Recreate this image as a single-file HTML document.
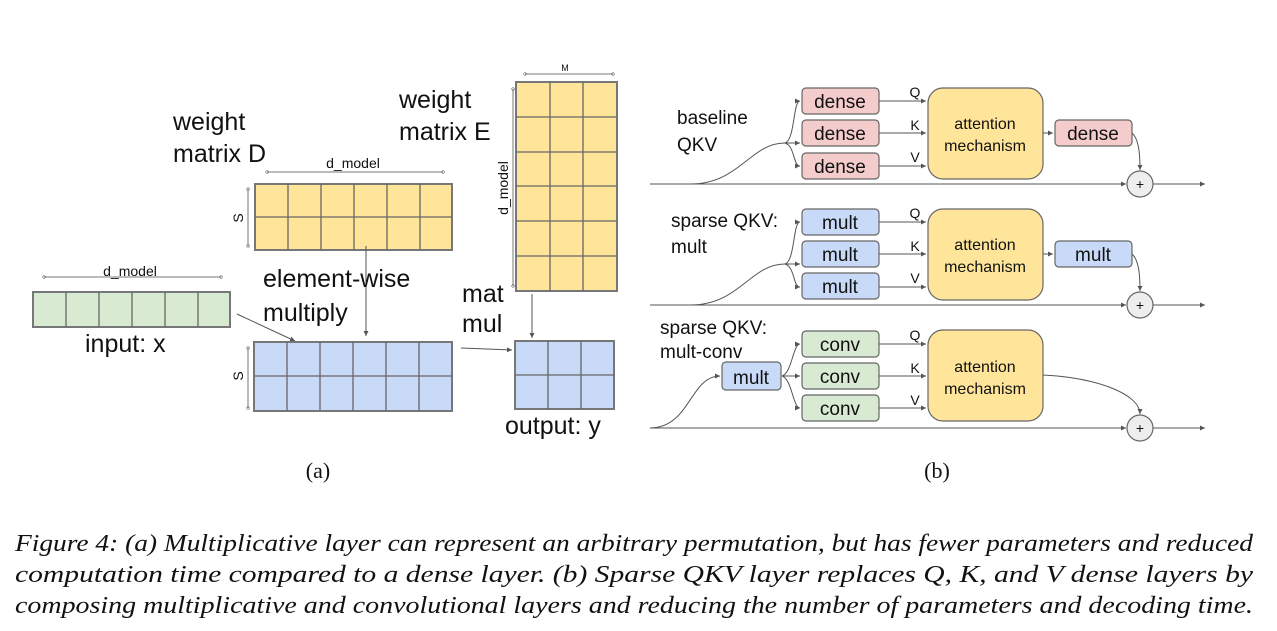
<!DOCTYPE html>
<html><head><meta charset="utf-8"><style>
html,body{margin:0;padding:0;background:#fff;}
svg{display:block;}
text{font-family:"Liberation Sans",sans-serif;fill:#111;}
.cap{font-family:"Liberation Serif",serif;font-style:italic;font-size:24px;}
</style></head><body>
<svg width="1277" height="631" viewBox="0 0 1277 631" xmlns="http://www.w3.org/2000/svg">
<defs>
<marker id="ar" markerWidth="6" markerHeight="6" refX="5" refY="3" orient="auto"><path d="M0,0.5 L5,3 L0,5.5z" fill="#555"/></marker>
<marker id="dot" markerWidth="4" markerHeight="4" refX="2" refY="2"><circle cx="2" cy="2" r="1.3" fill="none" stroke="#666" stroke-width="0.6"/></marker>
</defs>
<g stroke="#666" stroke-width="1.3">
<!-- input x -->
<rect x="33" y="292" width="197" height="35" fill="#d9ead3" stroke="#777" stroke-width="2"/>
<path d="M66,292v35M99,292v35M132,292v35M165,292v35M198,292v35" />
<!-- weight D -->
<rect x="255" y="184" width="197" height="66" fill="#ffe599" stroke="#777" stroke-width="2"/>
<path d="M288,184v66M321,184v66M354,184v66M387,184v66M420,184v66M255,217h197"/>
<!-- blue -->
<rect x="254" y="342" width="198" height="69" fill="#c9daf8" stroke="#777" stroke-width="2"/>
<path d="M287,342v69M320,342v69M353,342v69M386,342v69M419,342v69M254,376h198"/>
<!-- weight E -->
<rect x="516" y="82" width="101" height="209" fill="#ffe599" stroke="#777" stroke-width="2"/>
<path d="M550,82v209M583,82v209M516,117h101M516,152h101M516,186h101M516,221h101M516,256h101"/>
<!-- output y -->
<rect x="515" y="341" width="99" height="68" fill="#c9daf8" stroke="#777" stroke-width="2"/>
<path d="M548,341v68M581,341v68M515,375h99"/>
</g>
<g stroke="#777" stroke-width="1" fill="none" marker-start="url(#dot)" marker-end="url(#dot)">
<line x1="44" y1="277" x2="221" y2="277"/>
<line x1="267" y1="172" x2="443" y2="172"/>
<line x1="248" y1="189" x2="248" y2="246"/>
<line x1="248" y1="348" x2="248" y2="408"/>
<line x1="525" y1="74" x2="613" y2="74"/>
<line x1="513" y1="89" x2="513" y2="286"/>
</g>
<g stroke="#555" stroke-width="1" fill="none" marker-end="url(#ar)">
<line x1="366" y1="246" x2="366" y2="336"/>
<line x1="237" y1="314" x2="295" y2="341"/>
<line x1="461" y1="348" x2="512" y2="350"/>
<line x1="532" y1="294" x2="532" y2="338"/>
</g>
<text x="130" y="276" font-size="14" text-anchor="middle">d_model</text>
<text x="353" y="168" font-size="14" text-anchor="middle">d_model</text>
<text x="565" y="71" font-size="9" text-anchor="middle">M</text>
<text transform="translate(243,218) rotate(-90)" font-size="14" text-anchor="middle">S</text>
<text transform="translate(243,376) rotate(-90)" font-size="14" text-anchor="middle">S</text>
<text transform="translate(508,188) rotate(-90)" font-size="14" text-anchor="middle">d_model</text>
<g font-size="25">
<text x="173" y="130">weight</text>
<text x="173" y="162">matrix D</text>
<text x="399" y="108">weight</text>
<text x="399" y="140">matrix E</text>
<text x="263" y="287">element-wise</text>
<text x="263" y="321">multiply</text>
<text x="462" y="302">mat</text>
<text x="462" y="332">mul</text>
<text x="85" y="352">input: x</text>
<text x="505" y="434">output: y</text>
</g>
<text x="318" y="478" font-size="22" text-anchor="middle" style="font-family:'Liberation Serif',serif">(a)</text>
<text x="937" y="478" font-size="22" text-anchor="middle" style="font-family:'Liberation Serif',serif">(b)</text>

<!-- Right part -->
<g font-size="19">
<text x="677" y="124">baseline</text><text x="677" y="151">QKV</text>
<text x="671" y="227">sparse QKV:</text><text x="671" y="253">mult</text>
<text x="660" y="334">sparse QKV:</text><text x="660" y="358">mult-conv</text>
</g>
<g id="rows">
</g>
<!-- row 1 -->
<g stroke="#555" stroke-width="1" fill="none">
<path d="M650,184H1126" marker-end="url(#ar)"/><path d="M1153,184H1205" marker-end="url(#ar)"/>
<path d="M690,184 C740,184 750,143 785,143" />
<path d="M785,143 C795,140 793,101 800,101" marker-end="url(#ar)"/>
<path d="M785,143 H800" marker-end="url(#ar)"/>
<path d="M785,143 C795,146 793,166 800,166" marker-end="url(#ar)"/>
<path d="M879,101H926" marker-end="url(#ar)"/><path d="M879,133H926" marker-end="url(#ar)"/><path d="M879,166H926" marker-end="url(#ar)"/>
<path d="M1043,133H1053" marker-end="url(#ar)"/>
<path d="M1132,133 C1140,140 1140,160 1140,170" marker-end="url(#ar)"/>
<!-- row 2 -->
<path d="M650,305H1126" marker-end="url(#ar)"/><path d="M1153,305H1205" marker-end="url(#ar)"/>
<path d="M690,305 C740,305 750,264 785,264" />
<path d="M785,264 C795,261 793,222 800,222" marker-end="url(#ar)"/>
<path d="M785,264 H800" marker-end="url(#ar)"/>
<path d="M785,264 C795,267 793,287 800,287" marker-end="url(#ar)"/>
<path d="M879,222H926" marker-end="url(#ar)"/><path d="M879,254H926" marker-end="url(#ar)"/><path d="M879,287H926" marker-end="url(#ar)"/>
<path d="M1043,254H1053" marker-end="url(#ar)"/>
<path d="M1132,254 C1140,261 1140,281 1140,291" marker-end="url(#ar)"/>
<!-- row 3 -->
<path d="M650,428H1126" marker-end="url(#ar)"/><path d="M1153,428H1205" marker-end="url(#ar)"/>
<path d="M650,428 C690,428 690,376 720,376" marker-end="url(#ar)"/>
<path d="M782,376 C792,373 793,344 800,344" marker-end="url(#ar)"/>
<path d="M782,376 H800" marker-end="url(#ar)"/>
<path d="M782,376 C792,379 793,408 800,408" marker-end="url(#ar)"/>
<path d="M879,344H926" marker-end="url(#ar)"/><path d="M879,376H926" marker-end="url(#ar)"/><path d="M879,408H926" marker-end="url(#ar)"/>
<path d="M1043,375 C1100,378 1140,395 1140,414" marker-end="url(#ar)"/>
</g>
<g stroke="#666" stroke-width="1.2">
<rect x="802" y="88" width="77" height="26" rx="4" fill="#f4cccc"/>
<rect x="802" y="120" width="77" height="26" rx="4" fill="#f4cccc"/>
<rect x="802" y="153" width="77" height="26" rx="4" fill="#f4cccc"/>
<rect x="1055" y="120" width="77" height="26" rx="4" fill="#f4cccc"/>
<rect x="928" y="88" width="115" height="91" rx="15" fill="#ffe599"/>
<rect x="802" y="209" width="77" height="26" rx="4" fill="#c9daf8"/>
<rect x="802" y="241" width="77" height="26" rx="4" fill="#c9daf8"/>
<rect x="802" y="273" width="77" height="26" rx="4" fill="#c9daf8"/>
<rect x="1055" y="241" width="77" height="26" rx="4" fill="#c9daf8"/>
<rect x="928" y="209" width="115" height="91" rx="15" fill="#ffe599"/>
<rect x="802" y="331" width="77" height="26" rx="4" fill="#d9ead3"/>
<rect x="802" y="363" width="77" height="26" rx="4" fill="#d9ead3"/>
<rect x="802" y="395" width="77" height="26" rx="4" fill="#d9ead3"/>
<rect x="722" y="362" width="59" height="28" rx="4" fill="#c9daf8"/>
<rect x="928" y="330" width="115" height="91" rx="15" fill="#ffe599"/>
<circle cx="1140" cy="184" r="13" fill="#eee"/>
<circle cx="1140" cy="305" r="13" fill="#eee"/>
<circle cx="1140" cy="428" r="13" fill="#eee"/>
</g>
<g font-size="19" text-anchor="middle">
<text x="840" y="108">dense</text><text x="840" y="140">dense</text><text x="840" y="173">dense</text><text x="1093" y="140">dense</text>
<text x="840" y="229">mult</text><text x="840" y="261">mult</text><text x="840" y="293">mult</text><text x="1093" y="261">mult</text>
<text x="840" y="351">conv</text><text x="840" y="383">conv</text><text x="840" y="415">conv</text><text x="751" y="384">mult</text>
</g>
<g font-size="16" text-anchor="middle">
<text x="985" y="129">attention</text><text x="985" y="151">mechanism</text>
<text x="985" y="250">attention</text><text x="985" y="272">mechanism</text>
<text x="985" y="372">attention</text><text x="985" y="394">mechanism</text>
<text x="1140" y="189" font-size="14">+</text><text x="1140" y="310" font-size="14">+</text><text x="1140" y="433" font-size="14">+</text>
</g>
<g font-size="14" text-anchor="middle">
<text x="915" y="97">Q</text><text x="915" y="130">K</text><text x="915" y="162">V</text>
<text x="915" y="218">Q</text><text x="915" y="251">K</text><text x="915" y="283">V</text>
<text x="915" y="340">Q</text><text x="915" y="373">K</text><text x="915" y="405">V</text>
</g>
<text class="cap" x="15" y="551" textLength="1238" lengthAdjust="spacingAndGlyphs">Figure 4: (a) Multiplicative layer can represent an arbitrary permutation, but has fewer parameters and reduced</text>
<text class="cap" x="15" y="582" textLength="1238" lengthAdjust="spacingAndGlyphs">computation time compared to a dense layer.  (b) Sparse QKV layer replaces Q, K, and V dense layers by</text>
<text class="cap" x="15" y="613" textLength="1238" lengthAdjust="spacingAndGlyphs">composing multiplicative and convolutional layers and reducing the number of parameters and decoding time.</text>
</svg>
</body></html>
